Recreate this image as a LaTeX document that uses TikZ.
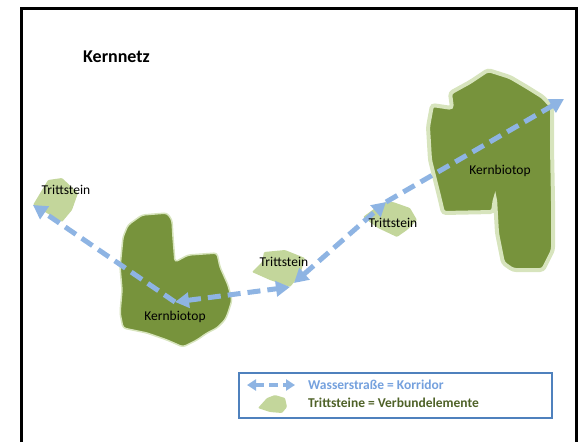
\documentclass[tikz,border=0pt]{standalone}
\usepackage{fontspec}
\setmainfont{Carlito}
\usetikzlibrary{arrows.meta}
\definecolor{dkgreen}{HTML}{77933C}
\definecolor{ltgreen}{HTML}{C3D69B}
\definecolor{rimgreen}{HTML}{D7E4BD}
\definecolor{corblue}{HTML}{8EB4E3}
\definecolor{legblue}{HTML}{4F81BD}
\definecolor{legtxtblue}{HTML}{75A1DE}
\definecolor{legtxtgreen}{HTML}{4F6228}
\begin{document}
\begin{tikzpicture}[x=1pt,y=-1pt,
  core/.style={fill=dkgreen, draw=rimgreen, rounded corners=3pt},
  stone/.style={fill=ltgreen, draw=none, rounded corners=1pt},
  corridor/.style={draw=corblue, line width=5pt, dash pattern=on 13pt off 7pt},
  lbl/.style={font=\fontsize{13.5}{15}\selectfont, text=black, inner sep=0pt},
  legtxt/.style={font=\fontsize{13.5}{15}\selectfont\bfseries, inner sep=0pt, anchor=base west},
]
\useasboundingbox (0,0) rectangle (580,442);
% frame
\draw[line width=3pt] (21.5,442) -- (21.5,8.5) -- (576.5,8.5) -- (576.5,442);
% title
\node[font=\fontsize{18}{20}\selectfont\bfseries, inner sep=0pt, anchor=base west] (title) at (83,62) {Kernnetz};
% left core
\draw[core, line width=1.5pt] (123,237) -- (128,225) -- (142,215) -- (167,213) -- (172,220) -- (173,237) -- (175,262) -- (188,255) -- (217,253) -- (220,267) -- (228,285) -- (232,300) -- (228,313) -- (225,320) -- (217,328) -- (207,333) -- (197,340) -- (183,347) -- (167,340) -- (147,333) -- (123,328) -- (120,313) -- (122,290) -- (120,267) -- (122,247) -- cycle;
% right core
\draw[core, line width=4pt] (488,70) -- (470,82) -- (450,93) -- (452,108) -- (432,105) -- (428,127) -- (430,160) -- (440,200) -- (443,213) -- (493,212) -- (495,198) -- (497,233) -- (503,263) -- (513,270) -- (543,270) -- (553,250) -- (553,200) -- (552,147) -- (552,107) -- (543,97) -- (527,87) -- (510,77) -- cycle;
% stepping stones
\fill[stone] (33,205) -- (48,180) -- (62,178) -- (78,193) -- (72,210) -- (62,222) -- (45,212) -- cycle;
\fill[stone] (252,272) -- (262,262) -- (264,252) -- (285,250) -- (305,258) -- (300,275) -- (290,287) -- (270,280) -- cycle;
\fill[stone] (363,217) -- (382,203) -- (393,202) -- (410,208) -- (417,220) -- (407,230) -- (397,237) -- (378,228) -- cycle;
% coordinates for corridors
\coordinate (kb1) at (175,302);
\coordinate (ts1) at (33,205);
\coordinate (ts2a) at (290,287);
\coordinate (ts2b) at (294,283);
\coordinate (ts3) at (386,202);
\coordinate (kb2) at (564,99);
% corridors
\draw[corridor, -{Triangle[length=14pt,width=15pt]}] (kb1) -- (ts1);
\draw[corridor, {Triangle[length=14pt,width=15pt]}-{Triangle[length=14pt,width=15pt]}] (kb1) -- (ts2a);
\draw[corridor, {Triangle[length=14pt,width=15pt]}-{Triangle[length=14pt,width=15pt]}] (ts2b) -- (ts3);
\draw[corridor, -{Triangle[length=14pt,width=15pt]}] (ts3) -- (kb2);
% labels
\node[lbl] (l1) at (66,190) {Trittstein};
\node[lbl] (l2) at (284,262) {Trittstein};
\node[lbl] (l3) at (393,223) {Trittstein};
\node[lbl] (l4) at (175,317) {Kernbiotop};
\node[lbl] (l5) at (500,171) {Kernbiotop};
% legend
\draw[draw=legblue, line width=1.5pt, fill=white] (239,373) rectangle (552,418);
\coordinate (la) at (247,385);
\coordinate (lb) at (295,385);
\draw[draw=corblue, line width=4pt, dash pattern=on 9pt off 5pt, {Triangle[length=9pt,width=11pt]}-{Triangle[length=9pt,width=11pt]}] (la) -- (lb);
\fill[stone] (258,408) -- (267,398) -- (275,395) -- (285,398) -- (287,407) -- (282,413) -- (270,412) -- cycle;
\node[legtxt, text=legtxtblue] (lt1) at (308,389) {Wasserstraße = Korridor};
\node[legtxt, text=legtxtgreen] (lt2) at (308,407) {Trittsteine = Verbundelemente};
\end{tikzpicture}
\end{document}
